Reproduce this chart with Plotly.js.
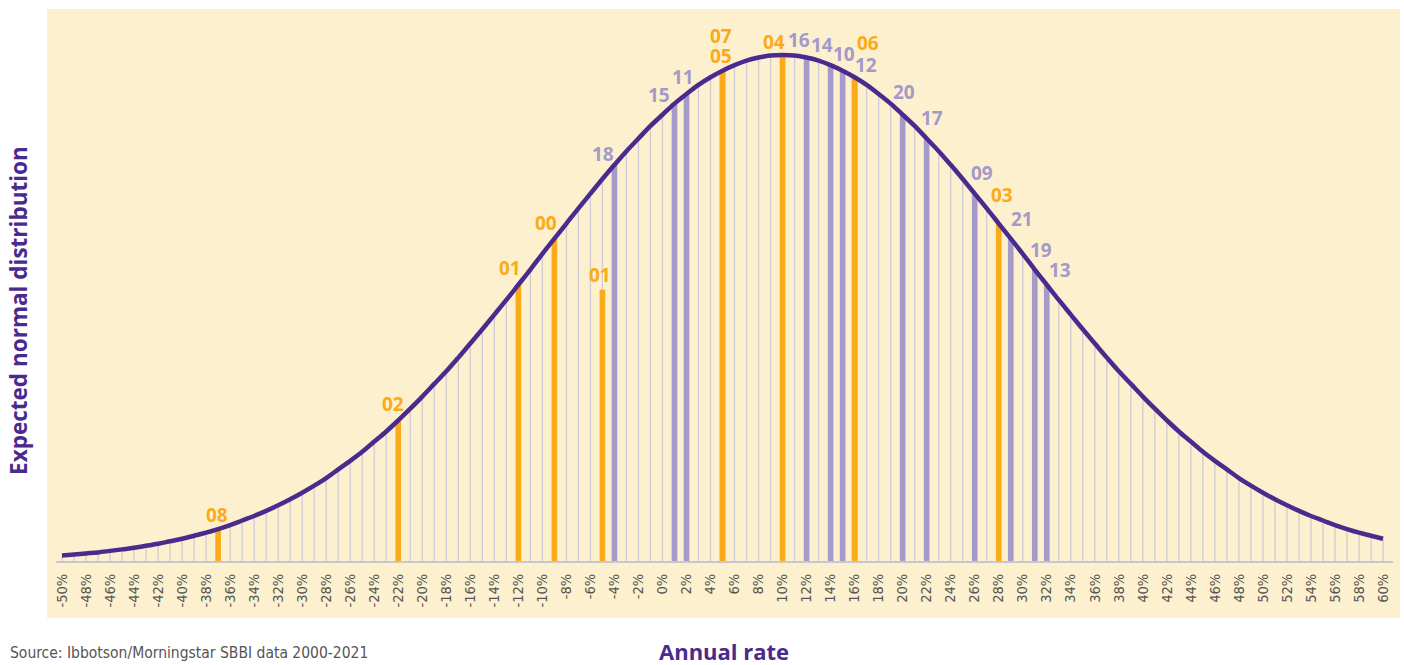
<!DOCTYPE html>
<html>
<head>
<meta charset="utf-8">
<script src="https://cdn.plot.ly/plotly-3.0.1.min.js"></script>
<style>
  html, body { margin: 0; padding: 0; background: #ffffff; }
  #chart { width: 1404px; height: 665px; }
</style>
</head>
<body>
<div id="chart"></div>
<script>
// ---------------- DATA ----------------
// Expected normal distribution height (peak = 100), one value per 1% from -50% to 60%
const rateStart = -50;
const rateStep = 1;
const curveY = [
  1.1, 1.3, 1.5, 1.7, 2.0, 2.3, 2.6, 3.0, 3.4, 3.9,
  4.4, 5.0, 5.6, 6.3, 7.1, 8.0, 8.9, 9.9, 11.0, 12.2,
  13.5, 14.9, 16.4, 18.1, 19.8, 21.6, 23.6, 25.6, 27.8, 30.1,
  32.5, 35.0, 37.5, 40.2, 43.0, 45.8, 48.7, 51.6, 54.6, 57.6,
  60.7, 63.7, 66.7, 69.7, 72.6, 75.5, 78.3, 81.0, 83.5, 86.0,
  88.2, 90.4, 92.3, 94.1, 95.6, 96.9, 98.0, 98.9, 99.5, 99.9,
  100,
  99.9, 99.5, 98.9, 98.0, 96.9, 95.6, 94.1, 92.3, 90.4, 88.2,
  86.0, 83.5, 81.0, 78.3, 75.5, 72.6, 69.7, 66.7, 63.7, 60.7,
  57.6, 54.6, 51.6, 48.7, 45.8, 43.0, 40.2, 37.5, 35.0, 32.5,
  30.1, 27.8, 25.6, 23.6, 21.6, 19.8, 18.1, 16.4, 14.9, 13.5,
  12.2, 11.0, 9.9, 8.9, 8.0, 7.1, 6.3, 5.6, 5.0, 4.4
];

// Years 2000-2008 (orange)
const orangeYears   = ['08', '02', '01', '00', '01', '05', '07', '04', '06', '03'];
const orangeRates   = [-37, -22, -12, -9, -5, 5, 5, 10, 16, 28];
const orangeHeights = [6.3, 27.8, 54.6, 63.7, 53.6, 96.9, 96.9, 100, 95.6, 66.7];

// Years 2009-2021 (purple)
const purpleYears   = ['18', '15', '11', '16', '14', '10', '12', '20', '17', '09', '21', '19', '13'];
const purpleRates   = [-4, 1, 2, 12, 14, 15, 16, 20, 22, 26, 29, 31, 32];
const purpleHeights = [78.3, 90.4, 92.3, 99.5, 98.0, 96.9, 95.6, 88.2, 83.5, 72.6, 63.7, 57.6, 54.6];

// Tick labels
const tickVals = [-50, -48, -46, -44, -42, -40, -38, -36, -34, -32, -30, -28, -26, -24, -22, -20,
  -18, -16, -14, -12, -10, -8, -6, -4, -2, 0, 2, 4, 6, 8, 10, 12, 14, 16, 18, 20, 22, 24, 26, 28,
  30, 32, 34, 36, 38, 40, 42, 44, 46, 48, 50, 52, 54, 56, 58, 60];
const tickText = tickVals.map(v => v + '%');

// ---------------- LAYOUT HELPERS (label offsets in px) ----------------
const orangeShiftX = [-1.5, -5, -8.5, -8, -2, -1.5, -1.5, -9, 13.5, 3];
const orangeShiftY = [14, 16, 16.5, 15.5, 14.5, 14.5, 34.5, 13.5, 34, 28.5];
const purpleShiftX = [-11.5, -15, -3, -7.5, -9, 1, 11.4, 1, 5.5, 7, 11, 6, 13];
const purpleShiftY = [10.5, 8.6, 17.5, 17.5, 20, 17, 12.5, 23, 20.5, 21, 19.5, 19.5, 14.3];

const ORANGE = '#fbab1a';
const PURPLE_BAR = '#a59bcb';
const PURPLE_TXT = '#a49ac9';
const CURVE = '#4b2a8e';
const THIN = '#d0ccd3';
const BG = '#fdf0cf';
const TITLE = '#4b2a8e';

const labelFont = 'Open Sans, Arial, sans-serif';
const narrowFont = 'Liberation Sans Narrow, Arial Narrow, DejaVu Sans Condensed, sans-serif';

const traces = [
  {
    type: 'bar', x0: rateStart, dx: rateStep, y: curveY,
    width: 0.11, marker: { color: THIN, line: { width: 0 } },
    hoverinfo: 'skip', showlegend: false
  },
  {
    type: 'bar', x: purpleRates, y: purpleHeights,
    width: 0.47, marker: { color: PURPLE_BAR, line: { width: 0 } },
    hoverinfo: 'skip', showlegend: false
  },
  {
    type: 'bar', x: orangeRates, y: orangeHeights,
    width: 0.47, marker: { color: ORANGE, line: { width: 0 } },
    hoverinfo: 'skip', showlegend: false
  },
  {
    type: 'scatter', mode: 'lines', x0: rateStart, dx: rateStep, y: curveY,
    line: { color: CURVE, width: 4.5, shape: 'spline', smoothing: 1 },
    hoverinfo: 'skip', showlegend: false, cliponaxis: false
  }
];

const annotations = [];
orangeYears.forEach((t, i) => annotations.push({
  x: orangeRates[i], y: orangeHeights[i], xref: 'x', yref: 'y',
  text: '<b>' + t + '</b>', showarrow: false, xanchor: 'center', yanchor: 'middle',
  xshift: orangeShiftX[i], yshift: orangeShiftY[i],
  font: { family: labelFont, size: 19, color: ORANGE }
}));
purpleYears.forEach((t, i) => annotations.push({
  x: purpleRates[i], y: purpleHeights[i], xref: 'x', yref: 'y',
  text: '<b>' + t + '</b>', showarrow: false, xanchor: 'center', yanchor: 'middle',
  xshift: purpleShiftX[i], yshift: purpleShiftY[i],
  font: { family: labelFont, size: 19, color: PURPLE_TXT }
}));

// Axis titles and source note
annotations.push({
  xref: 'paper', yref: 'paper', x: -0.0285, y: 0.4547, textangle: -90,
  text: '<b>Expected normal distribution</b>', showarrow: false,
  xanchor: 'center', yanchor: 'middle',
  font: { family: labelFont, size: 22.5, color: TITLE }
});
annotations.push({
  xref: 'paper', yref: 'paper', x: 0.4996, y: -0.163,
  text: '<b>Annual rate</b>', showarrow: false,
  xanchor: 'center', yanchor: 'middle',
  font: { family: labelFont, size: 22, color: TITLE }
});
annotations.push({
  xref: 'paper', yref: 'paper', x: -0.0362, y: -0.1665,
  text: 'Source: Ibbotson/Morningstar SBBI data 2000-2021', showarrow: false,
  xanchor: 'left', yanchor: 'middle',
  font: { family: narrowFont, size: 15.5, color: '#555555' }
});

const layout = {
  width: 1404, height: 665,
  margin: { l: 56, r: 11, t: 9, b: 104, pad: 0 },
  paper_bgcolor: '#ffffff',
  plot_bgcolor: 'rgba(0,0,0,0)',
  barmode: 'overlay',
  hovermode: false,
  showlegend: false,
  xaxis: {
    range: [-50.5, 60.83],
    tickvals: tickVals, ticktext: tickText,
    tickangle: -90,
    ticks: '', showgrid: false, zeroline: false,
    showline: true, linecolor: '#c9c7cb', linewidth: 2,
    ticklabelstandoff: 5,
    tickfont: { family: narrowFont, size: 14.5, color: '#555555' },
    fixedrange: true
  },
  yaxis: {
    range: [0, 109.1],
    showticklabels: false, ticks: '', showgrid: false, zeroline: false, showline: false,
    fixedrange: true
  },
  shapes: [{
    type: 'rect', xref: 'paper', yref: 'paper',
    x0: -0.00673, x1: 1.00524, y0: -0.10326, y1: 1,
    fillcolor: BG, line: { width: 0 }, layer: 'below'
  }],
  annotations: annotations
};

Plotly.newPlot('chart', traces, layout, { displayModeBar: false, staticPlot: true });
</script>
</body>
</html>
